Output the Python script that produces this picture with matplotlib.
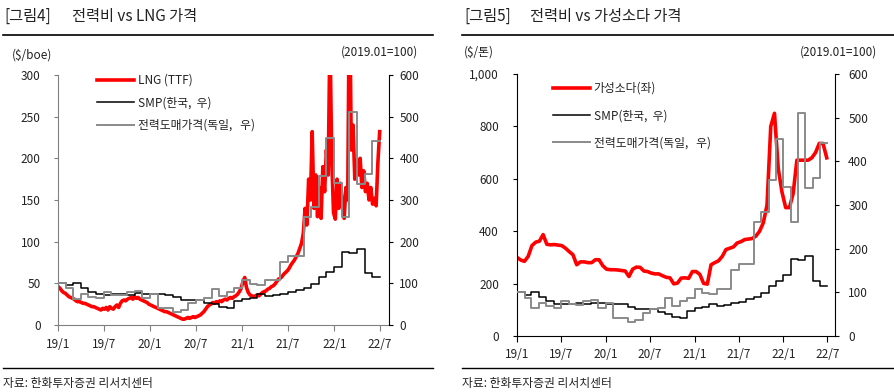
import numpy as np
import pandas as pd
import matplotlib
matplotlib.use('Agg')
from matplotlib import pyplot as plt
from matplotlib.lines import Line2D

plt.rcParams['font.family'] = ['Noto Sans CJK KR', 'DejaVu Sans']

# monthly index (2019.01=100), Jan 2019 .. Jun 2022
smp_korea = [100, 95, 101, 90, 80, 74, 73, 74, 75, 73, 76, 75,
             74, 74, 73, 67, 61, 61, 61, 54, 50, 44, 42, 57,
             63, 66, 74, 69, 72, 75, 79, 84, 89, 99, 115, 127,
             140, 176, 174, 183, 126, 115]
power_germany = [100, 88, 63, 75, 68, 65, 80, 73, 71, 80, 82, 65,
                 75, 42, 42, 32, 36, 52, 61, 65, 86, 69, 80, 88,
                 108, 99, 97, 108, 108, 151, 166, 166, 260, 283, 358, 450,
                 341, 260, 511, 339, 362, 442]

# LNG TTF, weekly, $/boe
lng_ttf = [46, 44, 41, 39, 38, 36, 34, 33, 32, 31, 29, 28, 28,
           27, 26, 26, 25, 24, 23, 22, 22, 21, 20, 19, 18, 20,
           19, 21, 18, 22, 20, 19, 22, 24, 21, 26, 29, 30, 29,
           31, 32, 33, 31, 34, 32, 33, 31, 30, 29, 28, 27, 25,
           24, 23, 22, 21, 20, 19, 18, 17, 16, 16, 15, 14, 13,
           12, 11, 10, 9, 8, 7, 7, 8, 9, 8, 9, 10, 9,
           10, 11, 12, 14, 16, 19, 22, 24, 25, 27, 26, 28, 27,
           29, 28, 30, 31, 30, 32, 33, 32, 34, 35, 37, 40, 44,
           52, 57, 45, 39, 36, 35, 34, 35, 36, 35, 37, 39, 40,
           41, 43, 44, 46, 47, 49, 52, 55, 56, 58, 61, 63, 65,
           68, 72, 75, 78, 82, 86, 92, 98, 110, 140, 120, 175, 150,
           232, 140, 180, 130, 165, 128, 190, 160, 210, 180, 350, 200, 135,
           127, 175, 140, 170, 145, 128, 165, 150, 420, 210, 240, 175, 195,
           180, 200, 165, 185, 160, 170, 150, 165, 145, 152, 143, 195, 232]

# caustic soda, twice a month, $/ton
caustic_soda = [300, 290, 285, 304, 345, 358, 362, 387, 350, 348,
                349, 347, 345, 335, 322, 310, 272, 283, 283, 280,
                280, 291, 291, 268, 255, 253, 253, 252, 250, 248,
                227, 255, 263, 262, 248, 246, 240, 237, 237, 230,
                224, 222, 199, 202, 221, 222, 220, 246, 246, 235,
                201, 198, 272, 280, 287, 304, 330, 335, 340, 355,
                360, 368, 370, 372, 381, 400, 432, 500, 800, 850,
                640, 550, 490, 490, 544, 671, 671, 671, 671, 680,
                700, 735, 735, 680]

xtick_labels = ['19/1', '19/7', '20/1', '20/7', '21/1', '21/7', '22/1', '22/7']

RED = '#ff0000'
GREY = '#8a8a8a'
TXT = '#222222'
W, H = 894, 392

month_dates = pd.date_range('2019-01-01', periods=len(smp_korea) + 1, freq='MS')
smp_steps = np.append(smp_korea, smp_korea[-1])
germany_steps = np.append(power_germany, power_germany[-1])
lng_dates = pd.date_range('2019-01-02', '2022-06-30', periods=len(lng_ttf))
soda_dates = pd.date_range('2019-01-01', '2022-06-28', periods=len(caustic_soda))
xticks = pd.date_range('2019-01-01', '2022-07-01', freq='6MS')

fig = plt.figure(figsize=(W / 100, H / 100), dpi=100)


def rect(x0, y0, x1, y1):
    return [x0 / W, 1 - y1 / H, (x1 - x0) / W, (y1 - y0) / H]


def draw_panel(box, xend, red_x, red_y, red_label, left_max, left_step,
               left_pad, right_pad, spine_col, leg_xy, leg_space, left_fmt):
    ax = fig.add_axes(rect(*box))
    ax.plot(red_x, red_y, color=RED, lw=2.6, label=red_label)
    ax.set_ylim(0, left_max)
    ax.set_yticks(np.arange(0, left_max + 1, left_step))
    ax.set_yticklabels([left_fmt.format(v) for v in np.arange(0, left_max + 1, left_step)])
    ax.set_xlim(pd.Timestamp('2019-01-01'), pd.Timestamp(xend))
    ax.set_xticks(xticks)
    ax.set_xticklabels(xtick_labels)

    ax2 = ax.twinx()
    ax2.plot(month_dates, smp_steps, drawstyle='steps-post', color='black', lw=1.1,
             label='SMP(한국,  우)')
    ax2.plot(month_dates, germany_steps, drawstyle='steps-post', color=GREY, lw=1.4,
             label='전력도매가격(독일,   우)')
    ax2.set_ylim(0, 600)
    ax2.set_yticks(range(0, 601, 100))

    for s in ['top', 'right']:
        ax.spines[s].set_visible(False)
    for s in ['top', 'left', 'bottom']:
        ax2.spines[s].set_visible(False)
    ax.spines['left'].set_color(spine_col)
    ax.spines['bottom'].set_color(spine_col)
    ax2.spines['right'].set_color('black')

    ax.tick_params(axis='y', length=3, pad=left_pad, labelsize=8.5, labelcolor=TXT, color=spine_col)
    ax.tick_params(axis='x', length=4, pad=5, labelsize=8.5, labelcolor=TXT, color=spine_col)
    ax2.tick_params(axis='y', length=3, pad=right_pad, labelsize=8.5, labelcolor=TXT)

    h1, l1 = ax.get_legend_handles_labels()
    h2, l2 = ax2.get_legend_handles_labels()
    ax2.legend(h1 + h2, l1 + l2, loc='upper left', frameon=False, fontsize=8.5,
               bbox_to_anchor=(leg_xy[0] / W, 1 - leg_xy[1] / H),
               bbox_transform=fig.transFigure, borderpad=0, borderaxespad=0,
               handlelength=3.1, handletextpad=0.35, labelspacing=leg_space,
               labelcolor=TXT)
    return ax, ax2


draw_panel((58, 75, 389, 325), '2022-08-06', lng_dates, lng_ttf, 'LNG (TTF)',
           300, 50, 9.5, 4.5, '#808080', (97, 74), 0.8, '{:d}')
draw_panel((517, 74, 835, 336), '2022-08-01', soda_dates, caustic_soda, '가성소다(좌)',
           1000, 200, 10, 6.5, 'black', (553, 82), 1.2, '{:,d}')

# headers, rules, notes
fig.text(4 / W, 1 - 16 / H, '[그림4]', fontsize=11, color=TXT, va='center')
fig.text(72 / W, 1 - 16 / H, '전력비 vs LNG 가격', fontsize=11, color=TXT, va='center')
fig.text(464 / W, 1 - 16 / H, '[그림5]', fontsize=11, color=TXT, va='center')
fig.text(530 / W, 1 - 16 / H, '전력비 vs 가성소다 가격', fontsize=11, color=TXT, va='center')

for x0, x1 in [(3, 433), (462, 894)]:
    fig.add_artist(Line2D([x0 / W, x1 / W], [1 - 34.5 / H, 1 - 34.5 / H], color='black', lw=1.2))
    fig.add_artist(Line2D([x0 / W, x1 / W], [1 - 368 / H, 1 - 368 / H], color='black', lw=1.0))

fig.text(12 / W, 1 - 55 / H, '($/boe)', fontsize=8.5, color=TXT, va='center')
fig.text(418 / W, 1 - 52 / H, '(2019.01=100)', fontsize=8.5, color=TXT, va='center', ha='right')
fig.text(464 / W, 1 - 52 / H, '($/톤)', fontsize=8.5, color=TXT, va='center')
fig.text(877 / W, 1 - 52 / H, '(2019.01=100)', fontsize=8.5, color=TXT, va='center', ha='right')

fig.text(3 / W, 1 - 383 / H, '자료: 한화투자증권 리서치센터', fontsize=8.5, color=TXT, va='center')
fig.text(462 / W, 1 - 383 / H, '자료: 한화투자증권 리서치센터', fontsize=8.5, color=TXT, va='center')

fig.savefig('out.png', dpi=100)
